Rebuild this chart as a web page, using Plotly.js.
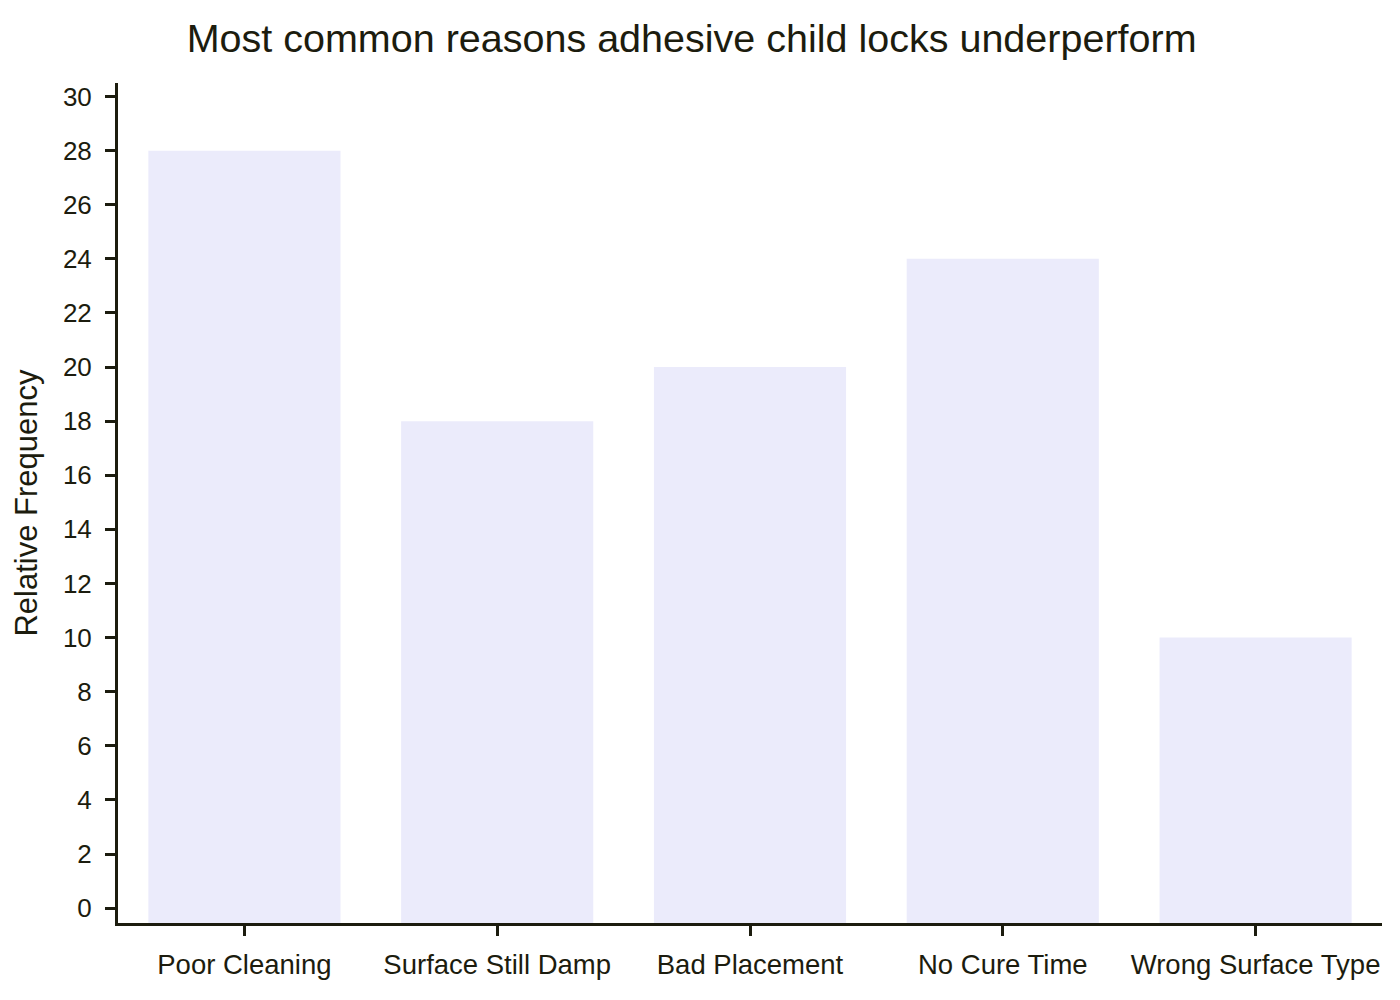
<!DOCTYPE html>
<html>
<head>
<meta charset="utf-8">
<script src="https://cdn.plot.ly/plotly-3.0.1.min.js"></script>
<style>html,body{margin:0;padding:0;background:#fff;}#chart{width:1400px;height:1000px;}</style>
</head>
<body>
<div id="chart"></div>
<script>
const categories = ["Poor Cleaning", "Surface Still Damp", "Bad Placement", "No Cure Time", "Wrong Surface Type"];
const frequencies = [28, 18, 20, 24, 10];
const yTickValues = [0, 2, 4, 6, 8, 10, 12, 14, 16, 18, 20, 22, 24, 26, 28, 30];

const ink = "#1c1c0e";
const fontFamily = "'Liberation Sans', Arial, sans-serif";
const yMin = -0.55;

const trace = {
  type: "bar",
  x: categories,
  y: frequencies.map(v => v - yMin),
  base: yMin,
  marker: { color: "rgba(230,230,250,0.8)", line: { width: 0 } },
  hoverinfo: "skip"
};

const layout = {
  width: 1400,
  height: 1000,
  paper_bgcolor: "#ffffff",
  plot_bgcolor: "#ffffff",
  margin: { l: 118, r: 18, t: 83, b: 77 },
  showlegend: false,
  bargap: 0.24,
  font: { family: fontFamily, color: ink, size: 24 },
  title: {
    text: "Most common reasons adhesive child locks underperform",
    font: { family: fontFamily, size: 39.5, color: ink },
    xref: "container", x: 0.494, xanchor: "center",
    yref: "container", y: 0.962, yanchor: "middle"
  },
  xaxis: {
    type: "category",
    showgrid: false,
    zeroline: false,
    showline: true,
    linecolor: ink,
    linewidth: 3,
    ticks: "outside",
    ticklen: 10,
    tickwidth: 3,
    tickcolor: ink,
    ticklabelstandoff: 5,
    tickfont: { family: fontFamily, size: 27.5, color: ink },
    automargin: false
  },
  yaxis: {
    range: [yMin, 30.5],
    tickvals: yTickValues,
    showgrid: false,
    zeroline: false,
    showline: true,
    linecolor: ink,
    linewidth: 3,
    ticks: "outside",
    ticklen: 10,
    tickwidth: 3,
    tickcolor: ink,
    ticklabelstandoff: 8,
    tickfont: { family: fontFamily, size: 26, color: ink },
    automargin: false,
    title: {
      text: "Relative Frequency",
      font: { family: fontFamily, size: 31, color: ink },
      standoff: 17
    }
  }
};

Plotly.newPlot("chart", [trace], layout, { displayModeBar: false, staticPlot: true });
</script>
</body>
</html>
